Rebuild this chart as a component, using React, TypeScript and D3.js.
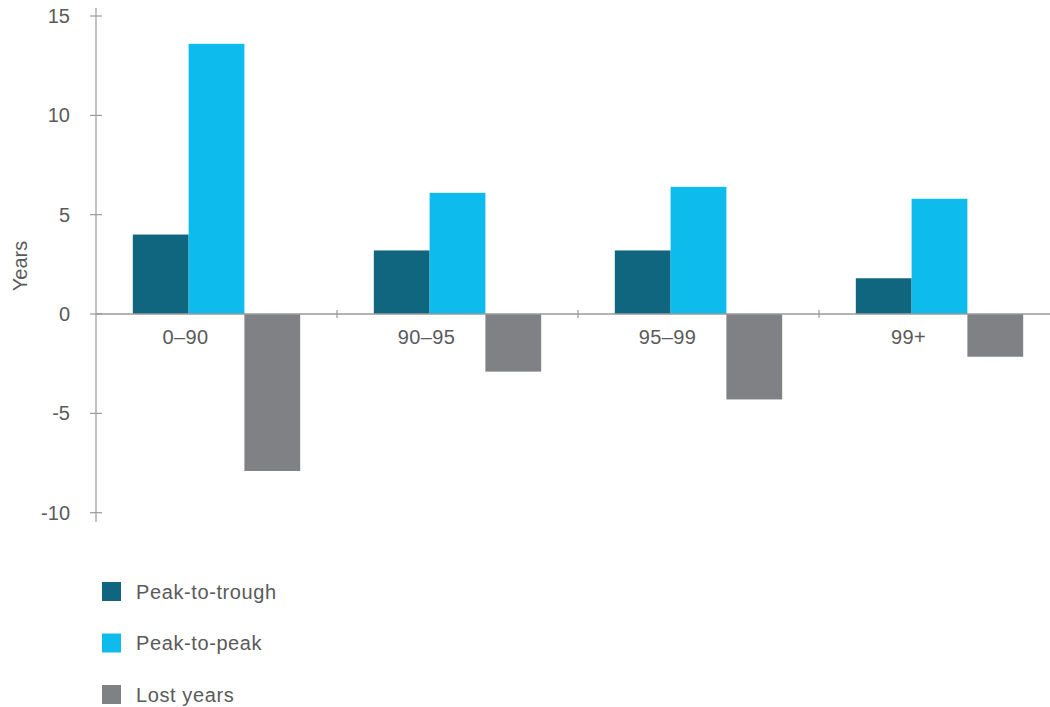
import React from "react";
import * as d3 from "d3";

// Recession duration by percentile bucket, in years
const categories = ["0–90", "90–95", "95–99", "99+"];
const seriesNames = ["Peak-to-trough", "Peak-to-peak", "Lost years"];
const peakToTrough = [4.0, 3.2, 3.2, 1.8];
const peakToPeak = [13.6, 6.1, 6.4, 5.8];
const lostYears = [-7.9, -2.9, -4.3, -2.15];
const yTicks = [-10, -5, 0, 5, 10, 15];

const colors = ["#10667F", "#0DBBEC", "#808184"];
const WIDTH = 1050;
const HEIGHT = 707;
const FONT = "'Liberation Sans', Arial, Helvetica, sans-serif";
const TEXT = "#5a5a5a";
const AXIS = "#9a9a9a";

export default function App() {
  const values = [peakToTrough, peakToPeak, lostYears];

  const y = d3.scaleLinear().domain([-10, 15]).range([512.7, 16]);
  const x0 = d3.scaleBand<string>().domain(categories).range([96, 1060]);
  const x1 = d3
    .scaleBand<string>()
    .domain(seriesNames)
    .range([0, x0.bandwidth()])
    .paddingInner(0)
    .paddingOuter(0.66);

  const axisX = x0.range()[0];
  const zeroY = y(0);

  return (
    <svg
      width={WIDTH}
      height={HEIGHT}
      style={{ position: "absolute", left: 0, top: 0, background: "#fff" }}
      fontFamily={FONT}
    >
      {/* bars */}
      {categories.map((c, ci) => (
        <g key={c} transform={`translate(${x0(c)},0)`}>
          {seriesNames.map((s, si) => {
            const v = values[si][ci];
            const top = y(Math.max(0, v));
            const bottom = y(Math.min(0, v));
            return (
              <rect
                key={s}
                x={x1(s)}
                y={top}
                width={x1.bandwidth()}
                height={bottom - top}
                fill={colors[si]}
              />
            );
          })}
        </g>
      ))}

      {/* y axis */}
      <line x1={axisX} x2={axisX} y1={8} y2={522} stroke={AXIS} strokeWidth={1.2} />
      {yTicks.map((t) => (
        <g key={t}>
          <line x1={axisX - 6} x2={axisX + 6} y1={y(t)} y2={y(t)} stroke={AXIS} strokeWidth={1.2} />
          <text
            x={70}
            y={y(t)}
            dy="0.35em"
            textAnchor="end"
            fontSize={20}
            fill={TEXT}
          >
            {t}
          </text>
        </g>
      ))}
      <text
        transform={`translate(27,266) rotate(-90)`}
        textAnchor="middle"
        fontSize={20}
        fill={TEXT}
      >
        Years
      </text>

      {/* x axis at zero */}
      <line x1={axisX} x2={WIDTH} y1={zeroY} y2={zeroY} stroke={AXIS} strokeWidth={1.5} />
      {categories.slice(1).map((c) => (
        <line
          key={c}
          x1={x0(c)}
          x2={x0(c)}
          y1={zeroY - 4}
          y2={zeroY + 4}
          stroke={AXIS}
          strokeWidth={1.2}
        />
      ))}
      {categories.map((c) => (
        <text
          key={c}
          x={(x0(c) ?? 0) + (x1("Peak-to-peak") ?? 0) - 3}
          y={344}
          textAnchor="middle"
          fontSize={20}
          letterSpacing={0.4}
          fill={TEXT}
        >
          {c}
        </text>
      ))}

      {/* legend */}
      {seriesNames.map((s, i) => (
        <g key={s} transform={`translate(102,${582 + i * 51.5})`}>
          <rect width={19} height={19} fill={colors[i]} />
          <text x={34} y={9.5} dy="0.36em" fontSize={20} letterSpacing={0.6} fill={TEXT}>
            {s}
          </text>
        </g>
      ))}
    </svg>
  );
}
